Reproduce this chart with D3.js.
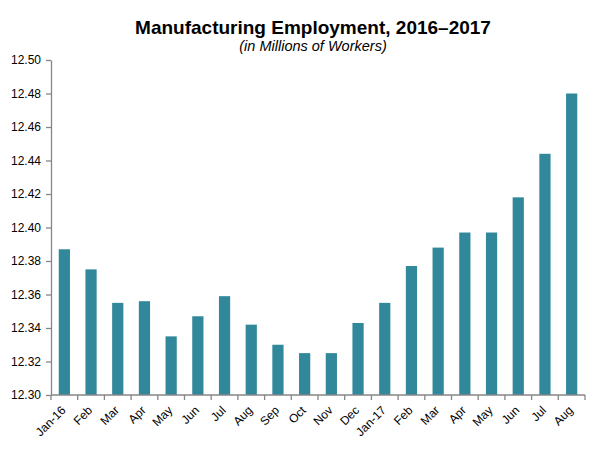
<!DOCTYPE html>
<html>
<head>
<meta charset="utf-8">
<script src="https://cdn.jsdelivr.net/npm/d3@7"></script>
<style>
  body { margin: 0; background: #fff; }
  svg { display: block; font-family: Arial, "Liberation Sans", sans-serif; }
</style>
</head>
<body>
<svg id="drawing_region"></svg>
<script>
// months, Jan 2016 through Aug 2017
const months = ['Jan-16','Feb','Mar','Apr','May','Jun','Jul','Aug','Sep','Oct','Nov','Dec',
                'Jan-17','Feb','Mar','Apr','May','Jun','Jul','Aug'];
// manufacturing employment, millions of workers
const workers = [12.387, 12.375, 12.355, 12.356, 12.335, 12.347, 12.359, 12.342, 12.330, 12.325,
                 12.325, 12.343, 12.355, 12.377, 12.388, 12.397, 12.397, 12.418, 12.444, 12.480];
const yTicks = [12.30, 12.32, 12.34, 12.36, 12.38, 12.40, 12.42, 12.44, 12.46, 12.48, 12.50];

const config = {
    width: 603,
    height: 452,
    margin: {top: 60, right: 18, bottom: 57, left: 51},
    title: 'Manufacturing Employment, 2016\u20132017',
    subtitle: '(in Millions of Workers)',
    color: '#31889A',
    axisColor: '#868686'
};

const data = months.map((m, i) => ({key: i, label: m, value: workers[i]}));

const svg = d3.select('#drawing_region')
    .attr('width', config.width)
    .attr('height', config.height);

const inner_width = config.width - config.margin.left - config.margin.right;
const inner_height = config.height - config.margin.top - config.margin.bottom;

const chart = svg.append('g')
    .attr('transform', `translate(${config.margin.left}, ${config.margin.top})`);

const xscale = d3.scaleBand()
    .domain(data.map(d => d.key))
    .range([0, inner_width])
    .paddingInner(0.58)
    .paddingOuter(0.29);

const yscale = d3.scaleLinear()
    .domain([12.30, 12.50])
    .range([inner_height, 0]);

// bars
chart.selectAll('rect')
    .data(data)
    .enter()
    .append('rect')
    .attr('x', d => xscale(d.key))
    .attr('y', d => yscale(d.value))
    .attr('width', xscale.bandwidth())
    .attr('height', d => inner_height - yscale(d.value))
    .attr('fill', config.color);

// y axis
const yaxis = d3.axisLeft(yscale)
    .tickValues(yTicks)
    .tickFormat(d3.format('.2f'))
    .tickSize(5)
    .tickSizeOuter(0)
    .tickPadding(5);

const yaxis_group = chart.append('g').call(yaxis);
yaxis_group.select('.domain').attr('stroke', config.axisColor).attr('stroke-width', 1.3);
yaxis_group.selectAll('.tick line').attr('stroke', config.axisColor).attr('stroke-width', 1.3);
yaxis_group.selectAll('.tick text')
    .attr('font-size', '12px')
    .attr('fill', '#000')
    .attr('font-family', 'Arial, "Liberation Sans", sans-serif');

// x axis: line plus ticks between the categories
const xaxis_group = chart.append('g')
    .attr('transform', `translate(0, ${inner_height})`);

xaxis_group.append('line')
    .attr('x1', 0).attr('x2', inner_width)
    .attr('stroke', config.axisColor).attr('stroke-width', 1.3);

xaxis_group.selectAll('line.sep')
    .data(d3.range(months.length + 1))
    .enter()
    .append('line')
    .attr('class', 'sep')
    .attr('x1', i => i * inner_width / months.length)
    .attr('x2', i => i * inner_width / months.length)
    .attr('y1', 0).attr('y2', 5)
    .attr('stroke', config.axisColor).attr('stroke-width', 1.3);

xaxis_group.selectAll('text')
    .data(data)
    .enter()
    .append('text')
    .attr('transform', d => `translate(${xscale(d.key) + xscale.bandwidth() / 2 - 4}, 10) rotate(-45)`)
    .attr('text-anchor', 'end')
    .attr('dy', '0.71em')
    .attr('font-size', '12px')
    .text(d => d.label);

// titles
svg.append('text')
    .attr('x', 313)
    .attr('y', 34)
    .attr('text-anchor', 'middle')
    .attr('font-size', '19px')
    .attr('font-weight', 'bold')
    .text(config.title);

svg.append('text')
    .attr('x', 313)
    .attr('y', 51)
    .attr('text-anchor', 'middle')
    .attr('font-size', '14.5px')
    .attr('font-style', 'italic')
    .text(config.subtitle);
</script>
</body>
</html>
